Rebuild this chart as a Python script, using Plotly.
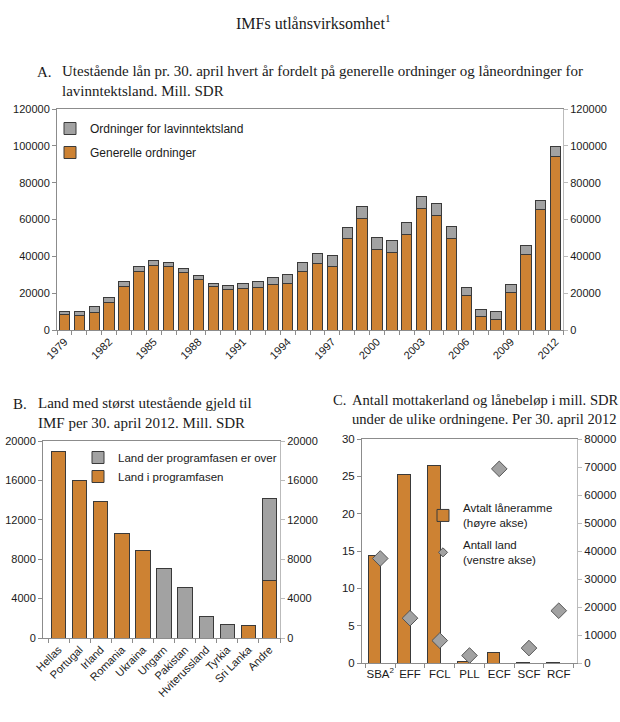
import plotly.graph_objects as go

W, H = 620, 722

# ---- data ----
years = list(range(1979, 2013))
general = [8500, 7800, 9400, 14700, 23400, 31500, 34800, 34400, 31300, 27500,
           23500, 22100, 22600, 23200, 24500, 25500, 31900, 36000, 34400, 49700,
           60600, 43500, 42100, 52000, 65800, 62000, 49900, 19000, 7100, 5800,
           20300, 41200, 65500, 94000]
low_income = [1280, 2000, 3100, 3050, 3050, 3100, 2700, 2400, 2000, 2000,
              1900, 2200, 2800, 3400, 3800, 4400, 4700, 5800, 6000, 6100,
              6500, 6900, 6300, 6600, 6900, 6900, 6500, 4000, 4000, 4000,
              4200, 4900, 5000, 5600]
year_ticks = list(range(1979, 2013, 3))

countries = ["Hellas", "Portugal", "Irland", "Romania", "Ukraina", "Ungarn",
             "Pakistan", "Hviterussland", "Tyrkia", "Sri Lanka", "Andre"]
in_program = [18950, 15970, 13840, 10560, 8870, None, None, None, None, 1320, 5850]
program_over = [None, None, None, None, None, 7040, 5140, 2170, 1420, None, 8300]

facilities = ["SBA<sup>2</sup>", "EFF", "FCL", "PLL", "ECF", "SCF", "RCF"]
agreed_amount = [38450, 67380, 70360, 420, 3930, 60, 60]
n_countries = [14, 6, 3, 1, 26, 2, 7]

ORANGE = "#CD8233"
GRAY = "#A2A2A2"
EDGE = "#3a3a3a"
AXC = "#8c8c8c"
AXL = "#bbbbbb"
TXT = "#1a1a1a"
SANS = "Liberation Sans, Arial, sans-serif"
SERIF = "Liberation Serif, Times New Roman, serif"


def px(x):
    return x / W


def py(y):
    return 1 - y / H


fig = go.Figure()

# ---- A ----
fig.add_trace(go.Bar(x=years, y=general, name="Generelle ordninger",
                     marker=dict(color=ORANGE, line=dict(color=EDGE, width=1)),
                     width=0.7, xaxis="x", yaxis="y", legend="legend",
                     legendgroup="a2", legendrank=2))
fig.add_trace(go.Bar(x=years, y=low_income, name="Ordninger for lavinntektsland",
                     marker=dict(color=GRAY, line=dict(color=EDGE, width=1)),
                     width=0.7, xaxis="x", yaxis="y", legend="legend",
                     legendgroup="a1", legendrank=1))
fig.add_trace(go.Scatter(x=[years[0]], y=[0], mode="markers", opacity=0,
                         showlegend=False, hoverinfo="skip",
                         xaxis="x", yaxis="y2"))

# ---- B ----
fig.add_trace(go.Bar(x=countries, y=in_program, name="Land i programfasen",
                     marker=dict(color=ORANGE, line=dict(color=EDGE, width=1)),
                     width=0.68, xaxis="x3", yaxis="y3", legend="legend2",
                     legendgroup="b2", legendrank=2))
fig.add_trace(go.Bar(x=countries, y=program_over, name="Land der programfasen er over",
                     marker=dict(color=GRAY, line=dict(color=EDGE, width=1)),
                     width=0.68, xaxis="x3", yaxis="y3", legend="legend2",
                     legendgroup="b1", legendrank=1))
fig.add_trace(go.Scatter(x=[countries[0]], y=[0], mode="markers", opacity=0,
                         showlegend=False, hoverinfo="skip",
                         xaxis="x3", yaxis="y4"))

# ---- C ----
fig.add_trace(go.Bar(x=facilities, y=agreed_amount,
                     name="Avtalt låneramme<br>(høyre akse)",
                     marker=dict(color=ORANGE, line=dict(color=EDGE, width=1)),
                     width=0.43, offset=-0.41, xaxis="x5", yaxis="y5",
                     legend="legend3", legendgroup="c1", legendrank=1))
fig.add_trace(go.Scatter(x=facilities, y=n_countries, mode="markers",
                         name="Antall land<br>(venstre akse)", showlegend=False,
                         marker=dict(symbol="diamond", size=12, color=GRAY,
                                     line=dict(color="#555555", width=1)),
                         xaxis="x5", yaxis="y6", legendgroup="c2"))
# small legend swatch for the diamonds
fig.add_trace(go.Scatter(x=[None], y=[None], mode="markers",
                         name="Antall land<br>(venstre akse)",
                         marker=dict(symbol="diamond", size=7, color=GRAY,
                                     line=dict(color="#555555", width=1)),
                         xaxis="x5", yaxis="y6", legend="legend3",
                         legendgroup="c2", legendrank=2, hoverinfo="skip"))

tickfont = dict(family=SANS, size=11, color=TXT)
tickfont_c = dict(family=SANS, size=11.5, color=TXT)
common = dict(showgrid=False, zeroline=False, automargin=False)

fig.update_layout(
    width=W, height=H,
    margin=dict(l=0, r=0, t=0, b=0, autoexpand=False),
    paper_bgcolor="white", plot_bgcolor="white",
    barmode="stack",
    font=dict(family=SANS, size=11, color=TXT),
    # A axes
    xaxis=dict(domain=[px(57), px(563)], anchor="y", range=[1978.5, 2012.5],
               tickvals=year_ticks, tickangle=-45, ticks="", tickfont=tickfont,
               showline=True, linecolor=AXC, mirror=True,
               minor=dict(tickvals=[y + 0.5 for y in range(1978, 2013)],
                          ticks="outside", ticklen=4, tickcolor=AXC), **common),
    yaxis=dict(domain=[py(330), py(109)], anchor="x", range=[0, 120000],
               dtick=20000, tickformat="d", ticks="outside", ticklen=4,
               tickcolor=AXC, tickfont=tickfont, showline=True, linecolor=AXC,
               **common),
    yaxis2=dict(overlaying="y", side="right", anchor="x", range=[0, 120000],
                dtick=20000, tickformat="d", ticks="outside", ticklen=4,
                tickcolor=AXL, tickfont=tickfont, showline=True, linecolor=AXL,
                **common),
    # B axes
    xaxis3=dict(domain=[px(43), px(280)], anchor="y3", tickangle=-45,
                ticks="outside", tickson="boundaries", ticklen=4, tickcolor=AXC,
                tickfont=tickfont, showline=True, linecolor=AXC, mirror=True,
                **common),
    yaxis3=dict(domain=[py(638), py(441)], anchor="x3", range=[0, 20000],
                dtick=4000, tickformat="d", ticks="outside", ticklen=4,
                tickcolor=AXC, tickfont=tickfont, showline=True, linecolor=AXC,
                **common),
    yaxis4=dict(overlaying="y3", side="right", anchor="x3", range=[0, 20000],
                dtick=4000, tickformat="d", ticks="outside", ticklen=4,
                tickcolor=AXL, tickfont=tickfont, showline=True, linecolor=AXL,
                **common),
    # C axes
    xaxis5=dict(domain=[px(362), px(577)], anchor="y5", tickangle=0,
                ticks="outside", tickson="boundaries", ticklen=4, tickcolor=AXC,
                tickfont=tickfont_c, showline=True, linecolor=AXC, mirror=True,
                **common),
    yaxis5=dict(domain=[py(663), py(439)], anchor="x5", side="right",
                range=[0, 80000], dtick=10000, tickformat="d", ticks="outside",
                ticklen=4, tickcolor=AXL, tickfont=tickfont_c, showline=True,
                linecolor=AXL, **common),
    yaxis6=dict(overlaying="y5", side="left", anchor="x5", range=[0, 30],
                dtick=5, ticks="outside", ticklen=4, tickcolor=AXC,
                tickfont=tickfont_c, showline=True, linecolor=AXC, **common),
    legend=dict(x=px(50), y=py(114), xanchor="left", yanchor="top",
                bgcolor="rgba(0,0,0,0)", font=dict(family=SANS, size=12, color=TXT),
                traceorder="grouped", tracegroupgap=5, itemwidth=30),
    legend2=dict(x=px(78), y=py(443), xanchor="left", yanchor="top",
                 bgcolor="rgba(0,0,0,0)", font=dict(family=SANS, size=11.5, color=TXT),
                 traceorder="grouped", tracegroupgap=0, itemwidth=30),
    legend3=dict(x=px(423), y=py(494), xanchor="left", yanchor="top",
                 bgcolor="rgba(0,0,0,0)", font=dict(family=SANS, size=11.5, color=TXT),
                 traceorder="grouped", itemwidth=30, tracegroupgap=4),
)

annotations = [
    dict(text="IMFs utlånsvirksomhet<sup>1</sup>", x=px(313), y=py(22),
         xanchor="center", yanchor="middle", font=dict(family=SERIF, size=16)),
    dict(text="A.", x=px(35), y=py(72), xanchor="left", yanchor="middle",
         font=dict(family=SERIF, size=15)),
    dict(text="Utestående lån pr. 30. april hvert år fordelt på generelle ordninger og låneordninger for<br>lavinntektsland. Mill. SDR",
         x=px(60), y=py(81), xanchor="left", yanchor="middle", align="left",
         font=dict(family=SERIF, size=15)),
    dict(text="B.", x=px(11), y=py(404), xanchor="left", yanchor="middle",
         font=dict(family=SERIF, size=15)),
    dict(text="Land med størst utestående gjeld til<br>IMF per 30. april 2012. Mill. SDR",
         x=px(36), y=py(413), xanchor="left", yanchor="middle", align="left",
         font=dict(family=SERIF, size=15)),
    dict(text="C.", x=px(331), y=py(400), xanchor="left", yanchor="middle",
         font=dict(family=SERIF, size=14.6)),
    dict(text="Antall mottakerland og lånebeløp i mill. SDR<br>under de ulike ordningene. Per 30. april 2012",
         x=px(350), y=py(409), xanchor="left", yanchor="middle", align="left",
         font=dict(family=SERIF, size=14.6)),
]
for a in annotations:
    a.update(xref="paper", yref="paper", showarrow=False)
fig.update_layout(annotations=annotations)

fig.write_html("out.html",
               config={"displayModeBar": False},
               post_script="document.body.style.margin='0px';")
